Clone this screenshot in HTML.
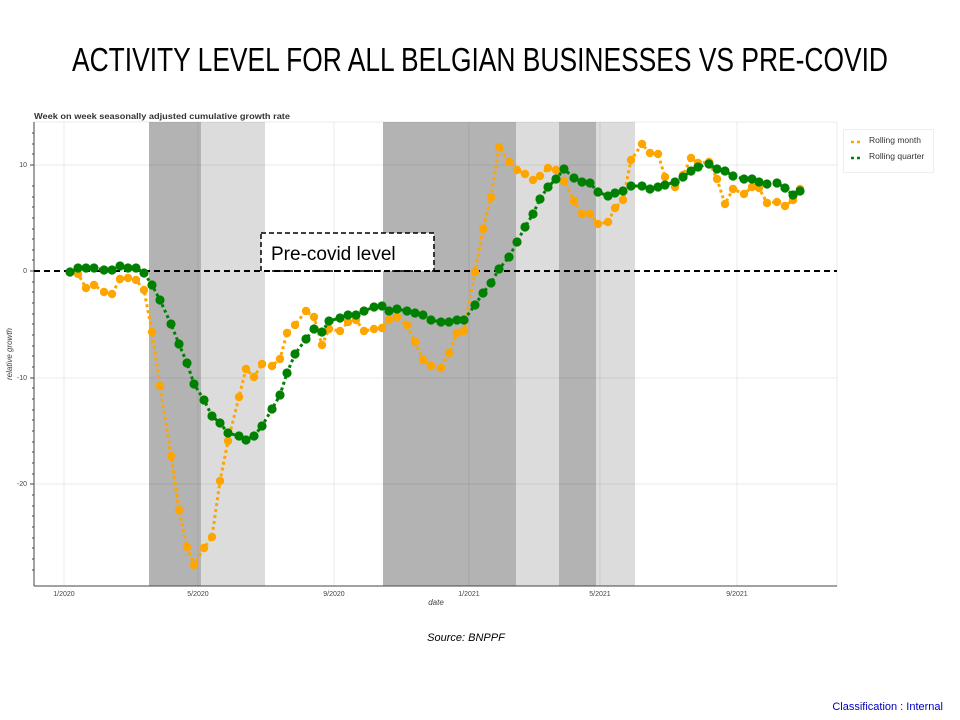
<!DOCTYPE html>
<html><head><meta charset="utf-8"><style>
html,body{margin:0;padding:0;background:#fff;width:960px;height:720px;overflow:hidden}
svg{display:block}
</style></head><body>
<svg width="960" height="720" viewBox="0 0 960 720" xmlns="http://www.w3.org/2000/svg" font-family="Liberation Sans, sans-serif">
<defs>
<marker id="mo" markerUnits="userSpaceOnUse" markerWidth="10" markerHeight="10" refX="5" refY="5"><circle cx="5" cy="5" r="4.2" fill="#FFA500"/></marker>
<marker id="mg" markerUnits="userSpaceOnUse" markerWidth="10" markerHeight="10" refX="5" refY="5"><circle cx="5" cy="5" r="4.6" fill="#008000"/></marker>
</defs>
<text x="480" y="71" text-anchor="middle" font-size="33" textLength="816" lengthAdjust="spacingAndGlyphs" fill="#000">ACTIVITY LEVEL FOR ALL BELGIAN BUSINESSES VS PRE-COVID</text>
<text x="34" y="119" font-size="8.5" font-weight="bold" fill="#333" textLength="256" lengthAdjust="spacingAndGlyphs">Week on week seasonally adjusted cumulative growth rate</text>
<rect x="149" y="122" width="52" height="464" fill="#b3b3b3"/>
<rect x="201" y="122" width="64" height="464" fill="#dcdcdc"/>
<rect x="383" y="122" width="133" height="464" fill="#b3b3b3"/>
<rect x="516" y="122" width="43" height="464" fill="#dcdcdc"/>
<rect x="559" y="122" width="37" height="464" fill="#b3b3b3"/>
<rect x="596" y="122" width="39" height="464" fill="#dcdcdc"/>
<g stroke="#000" stroke-opacity="0.08" stroke-width="1">
<line x1="64" y1="122" x2="64" y2="586"/><line x1="198" y1="122" x2="198" y2="586"/><line x1="334" y1="122" x2="334" y2="586"/><line x1="469" y1="122" x2="469" y2="586"/><line x1="600" y1="122" x2="600" y2="586"/><line x1="737" y1="122" x2="737" y2="586"/>
<line x1="34" y1="165" x2="837" y2="165"/><line x1="34" y1="378" x2="837" y2="378"/><line x1="34" y1="484" x2="837" y2="484"/>
<line x1="837" y1="122" x2="837" y2="586"/><line x1="34" y1="122" x2="837" y2="122"/>
</g>
<g stroke="#444" stroke-width="1">
<line x1="34" y1="122" x2="34" y2="586"/><line x1="34" y1="586" x2="837" y2="586"/>
<line x1="30" y1="165" x2="34" y2="165"/><line x1="30" y1="271" x2="34" y2="271"/><line x1="30" y1="378" x2="34" y2="378"/><line x1="30" y1="484" x2="34" y2="484"/>
<line x1="32" y1="133" x2="34" y2="133"/><line x1="32" y1="144" x2="34" y2="144"/><line x1="32" y1="154" x2="34" y2="154"/><line x1="32" y1="186" x2="34" y2="186"/><line x1="32" y1="197" x2="34" y2="197"/><line x1="32" y1="207" x2="34" y2="207"/><line x1="32" y1="218" x2="34" y2="218"/><line x1="32" y1="229" x2="34" y2="229"/><line x1="32" y1="239" x2="34" y2="239"/><line x1="32" y1="250" x2="34" y2="250"/><line x1="32" y1="260" x2="34" y2="260"/><line x1="32" y1="282" x2="34" y2="282"/><line x1="32" y1="292" x2="34" y2="292"/><line x1="32" y1="303" x2="34" y2="303"/><line x1="32" y1="314" x2="34" y2="314"/><line x1="32" y1="324" x2="34" y2="324"/><line x1="32" y1="335" x2="34" y2="335"/><line x1="32" y1="346" x2="34" y2="346"/><line x1="32" y1="356" x2="34" y2="356"/><line x1="32" y1="367" x2="34" y2="367"/><line x1="32" y1="388" x2="34" y2="388"/><line x1="32" y1="399" x2="34" y2="399"/><line x1="32" y1="410" x2="34" y2="410"/><line x1="32" y1="420" x2="34" y2="420"/><line x1="32" y1="431" x2="34" y2="431"/><line x1="32" y1="442" x2="34" y2="442"/><line x1="32" y1="452" x2="34" y2="452"/><line x1="32" y1="463" x2="34" y2="463"/><line x1="32" y1="474" x2="34" y2="474"/><line x1="32" y1="495" x2="34" y2="495"/><line x1="32" y1="506" x2="34" y2="506"/><line x1="32" y1="516" x2="34" y2="516"/><line x1="32" y1="527" x2="34" y2="527"/><line x1="32" y1="538" x2="34" y2="538"/><line x1="32" y1="548" x2="34" y2="548"/><line x1="32" y1="559" x2="34" y2="559"/><line x1="32" y1="570" x2="34" y2="570"/>
</g>
<g font-size="7" fill="#444">
<text x="27" y="167" text-anchor="end">10</text><text x="27" y="273" text-anchor="end">0</text><text x="27" y="380" text-anchor="end">-10</text><text x="27" y="486" text-anchor="end">-20</text>
<text x="64" y="596" text-anchor="middle">1/2020</text><text x="198" y="596" text-anchor="middle">5/2020</text><text x="334" y="596" text-anchor="middle">9/2020</text><text x="469" y="596" text-anchor="middle">1/2021</text><text x="600" y="596" text-anchor="middle">5/2021</text><text x="737" y="596" text-anchor="middle">9/2021</text>
</g>
<text x="436" y="605" text-anchor="middle" font-size="8" font-style="italic" fill="#444">date</text>
<text transform="translate(12,354) rotate(-90)" text-anchor="middle" font-size="8" font-style="italic" fill="#444">relative growth</text>
<rect x="261" y="233" width="173" height="38" fill="#fff" stroke="#000" stroke-width="1.5" stroke-dasharray="5,3"/>
<text x="271" y="260" font-size="19" fill="#000">Pre-covid level</text>
<line x1="34" y1="271" x2="837" y2="271" stroke="#000" stroke-width="2" stroke-dasharray="6,4"/>
<polyline fill="none" stroke="#FFA500" stroke-width="3" stroke-dasharray="3,3" marker-start="url(#mo)" marker-mid="url(#mo)" marker-end="url(#mo)" points="70,272 78,274 86,288 94,285 104,292 112,294 120,279 128,278 136,280 144,290 152,332 160,386 171,456 179,510 187,547 194,565 204,548 212,537 220,481 228,441 239,397 246,369 254,377 262,364 272,366 280,359 287,333 295,325 306,311 314,317 322,345 329,329 340,331 348,322 356,320 364,331 374,329 382,328 389,320 397,317 407,325 415,342 423,360 431,366 441,368 449,353 457,333 464,331 475,272 483,229 491,197 499,147 509,162 517,170 525,174 533,180 540,176 548,168 556,170 564,181 574,201 582,214 590,214 598,224 608,222 615,208 623,200 631,160 642,144 650,153 658,154 665,177 675,187 683,175 691,158 698,163 709,162 717,179 725,204 733,189 744,194 752,187 759,188 767,203 777,202 785,206 793,200 800,189"/>
<polyline fill="none" stroke="#008000" stroke-width="3" stroke-dasharray="3,3" marker-start="url(#mg)" marker-mid="url(#mg)" marker-end="url(#mg)" points="70,272 78,268 86,268 94,268 104,270 112,270 120,266 128,268 136,268 144,273 152,285 160,300 171,324 179,344 187,363 194,384 204,400 212,416 220,423 228,433 239,436 246,440 254,436 262,426 272,409 280,395 287,373 295,354 306,339 314,329 322,332 329,321 340,318 348,315 356,315 364,311 374,307 382,306 389,311 397,309 407,311 415,313 423,315 431,320 441,322 449,322 457,320 464,320 475,305 483,293 491,283 499,269 509,257 517,242 525,227 533,214 540,199 548,187 556,179 564,169 574,178 582,182 590,183 598,192 608,196 615,193 623,191 631,186 642,186 650,189 658,187 665,185 675,182 683,177 691,171 698,167 709,164 717,169 725,171 733,176 744,179 752,179 759,182 767,184 777,183 785,188 793,195 800,191"/>
<rect x="843.5" y="129.5" width="90" height="43" fill="#fff" stroke="#eee"/>
<line x1="851" y1="142" x2="863" y2="142" stroke="#FFA500" stroke-width="2.5" stroke-dasharray="3,3"/>
<line x1="851" y1="158" x2="863" y2="158" stroke="#008000" stroke-width="2.5" stroke-dasharray="3,3"/>
<text x="869" y="143" font-size="8.5" fill="#333">Rolling month</text>
<text x="869" y="159" font-size="8.5" fill="#333">Rolling quarter</text>
<text x="466" y="641" text-anchor="middle" font-size="11" font-style="italic" fill="#000">Source: BNPPF</text>
<text x="943" y="710" text-anchor="end" font-size="11" fill="#0000c0">Classification : Internal</text>
</svg>
</body></html>
